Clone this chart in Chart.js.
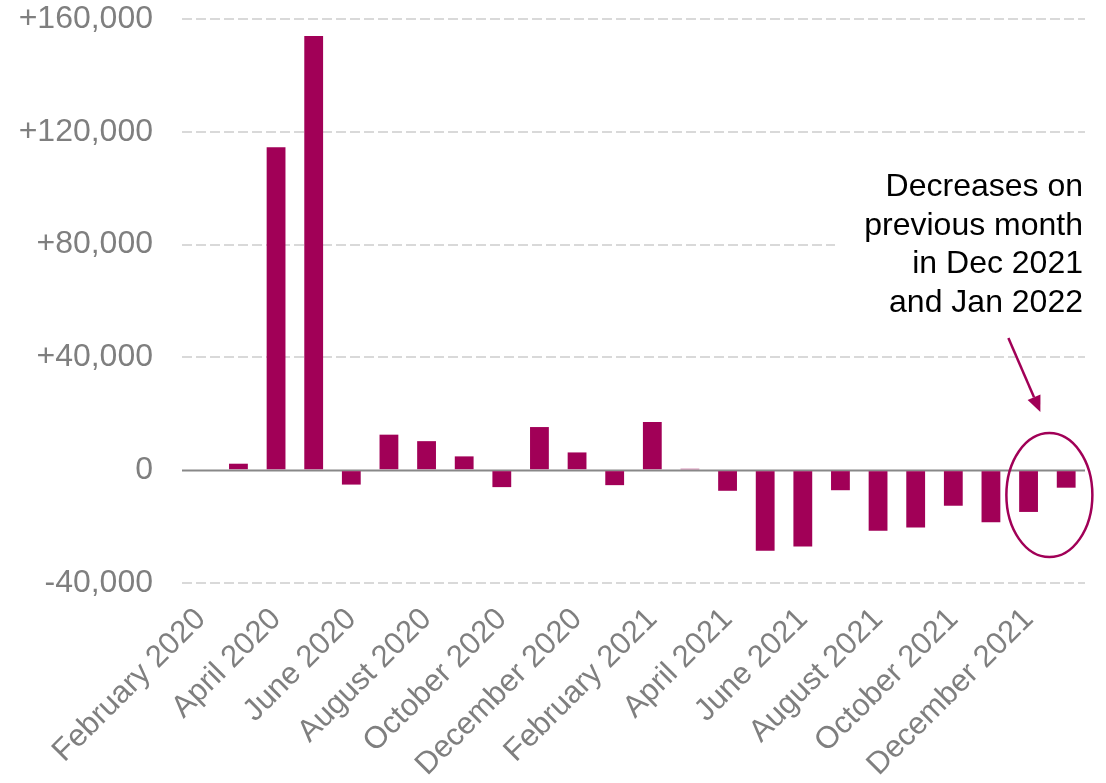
<!DOCTYPE html>
<html>
<head>
<meta charset="utf-8">
<script src="https://cdn.jsdelivr.net/npm/chart.js@4/dist/chart.umd.min.js"></script>
<style>
  html, body { margin: 0; padding: 0; background: #fff; }
  #wrap { width: 1106px; height: 783px; }
</style>
</head>
<body>
<div id="wrap"><canvas id="chart" width="1106" height="783"></canvas></div>
<script>
// Monthly change, Feb 2020 – Jan 2022
const months = [
  'February 2020', 'March 2020', 'April 2020', 'May 2020', 'June 2020', 'July 2020',
  'August 2020', 'September 2020', 'October 2020', 'November 2020', 'December 2020', 'January 2021',
  'February 2021', 'March 2021', 'April 2021', 'May 2021', 'June 2021', 'July 2021',
  'August 2021', 'September 2021', 'October 2021', 'November 2021', 'December 2021', 'January 2022'
];
const change = [
  0, 2300, 114500, 154000, -5100, 12600,
  10300, 4900, -6000, 15300, 6300, -5300,
  17100, 500, -7300, -28600, -27100, -7100,
  -21500, -20300, -12600, -18500, -14800, -6200
];
const yTicks = [-40000, 0, 40000, 80000, 120000, 160000];
const noteLines = ['Decreases on', 'previous month', 'in Dec 2021', 'and Jan 2022'];

const PLUM = '#a10057';
const GREY = '#7f7f7f';
const FONT = "'Liberation Sans', Arial, sans-serif";

const fmt = (v) => (v > 0 ? '+' : '') + v.toLocaleString('en-US');

// solid zero line over the dashed grid
const zeroLine = {
  id: 'zeroLine',
  beforeDatasetsDraw(chart) {
    const { ctx, chartArea: a, scales: { y } } = chart;
    const py = Math.round(y.getPixelForValue(0)) + 0.5;
    ctx.save();
    ctx.strokeStyle = '#888888';
    ctx.lineWidth = 2;
    ctx.beginPath();
    ctx.moveTo(a.left, py);
    ctx.lineTo(a.right, py);
    ctx.stroke();
    ctx.restore();
  }
};

// callout: note text, arrow and ring round the last two bars
const callout = {
  id: 'callout',
  afterDatasetsDraw(chart) {
    const { ctx, chartArea: a, scales: { x, y } } = chart;
    ctx.save();

    ctx.fillStyle = '#fff';
    ctx.fillRect(835, 160, chart.width - 835, 162);

    ctx.fillStyle = '#000';
    ctx.font = '32px ' + FONT;
    ctx.textAlign = 'right';
    ctx.textBaseline = 'alphabetic';
    noteLines.forEach((t, i) => ctx.fillText(t, a.right - 2, 196 + i * 38.5));

    const n = months.length;
    const cx = (x.getPixelForValue(n - 2) + x.getPixelForValue(n - 1)) / 2 + 2;
    const cy = y.getPixelForValue(-8800);
    const rx = 43, ry = 62;
    ctx.strokeStyle = PLUM;
    ctx.lineWidth = 2.5;
    ctx.beginPath();
    ctx.ellipse(cx, cy, rx, ry, 0, 0, Math.PI * 2);
    ctx.stroke();

    // arrow pointing down at the ring
    const tx = cx - 9, ty = cy - ry - 21;
    const sx = tx - 32, sy = ty - 74;
    const ang = Math.atan2(ty - sy, tx - sx);
    const hl = 16, hw = 7;
    const bx = tx - hl * Math.cos(ang), by = ty - hl * Math.sin(ang);
    ctx.beginPath();
    ctx.moveTo(sx, sy);
    ctx.lineTo(bx, by);
    ctx.stroke();
    ctx.fillStyle = PLUM;
    ctx.beginPath();
    ctx.moveTo(tx, ty);
    ctx.lineTo(bx + hw * Math.sin(ang), by - hw * Math.cos(ang));
    ctx.lineTo(bx - hw * Math.sin(ang), by + hw * Math.cos(ang));
    ctx.closePath();
    ctx.fill();

    ctx.restore();
  }
};

new Chart(document.getElementById('chart').getContext('2d'), {
  type: 'bar',
  data: {
    labels: months,
    datasets: [{
      data: change,
      backgroundColor: PLUM,
      borderWidth: 0,
      barPercentage: 0.5,
      categoryPercentage: 1
    }]
  },
  options: {
    responsive: false,
    animation: false,
    layout: { padding: { top: 19, right: 21, left: 0, bottom: 0 } },
    plugins: { legend: { display: false }, tooltip: { enabled: false } },
    scales: {
      x: {
        grid: { display: false },
        border: { display: false },
        ticks: {
          autoSkip: false,
          minRotation: 45,
          maxRotation: 45,
          padding: 10,
          color: GREY,
          font: { family: FONT, size: 31 },
          callback(v, i) { return i % 2 === 0 ? this.getLabelForValue(v) : ''; }
        },
        afterFit(s) { s.height = 200; s.paddingLeft = 0; s.paddingRight = 0; }
      },
      y: {
        min: -40000,
        max: 160000,
        afterBuildTicks(s) { s.ticks = yTicks.map((v) => ({ value: v })); },
        grid: {
          color: (c) => (c.tick && c.tick.value === 0 ? 'rgba(0,0,0,0)' : '#d9d9d9'),
          lineWidth: 2,
          drawTicks: false
        },
        border: { display: false, dash: [10, 4] },
        ticks: {
          padding: 29,
          color: GREY,
          font: { family: FONT, size: 32 },
          callback: (v) => fmt(v)
        },
        afterFit(s) { s.width = 182; s.paddingTop = 0; s.paddingBottom = 0; }
      }
    }
  },
  plugins: [zeroLine, callout]
});
</script>
</body>
</html>
